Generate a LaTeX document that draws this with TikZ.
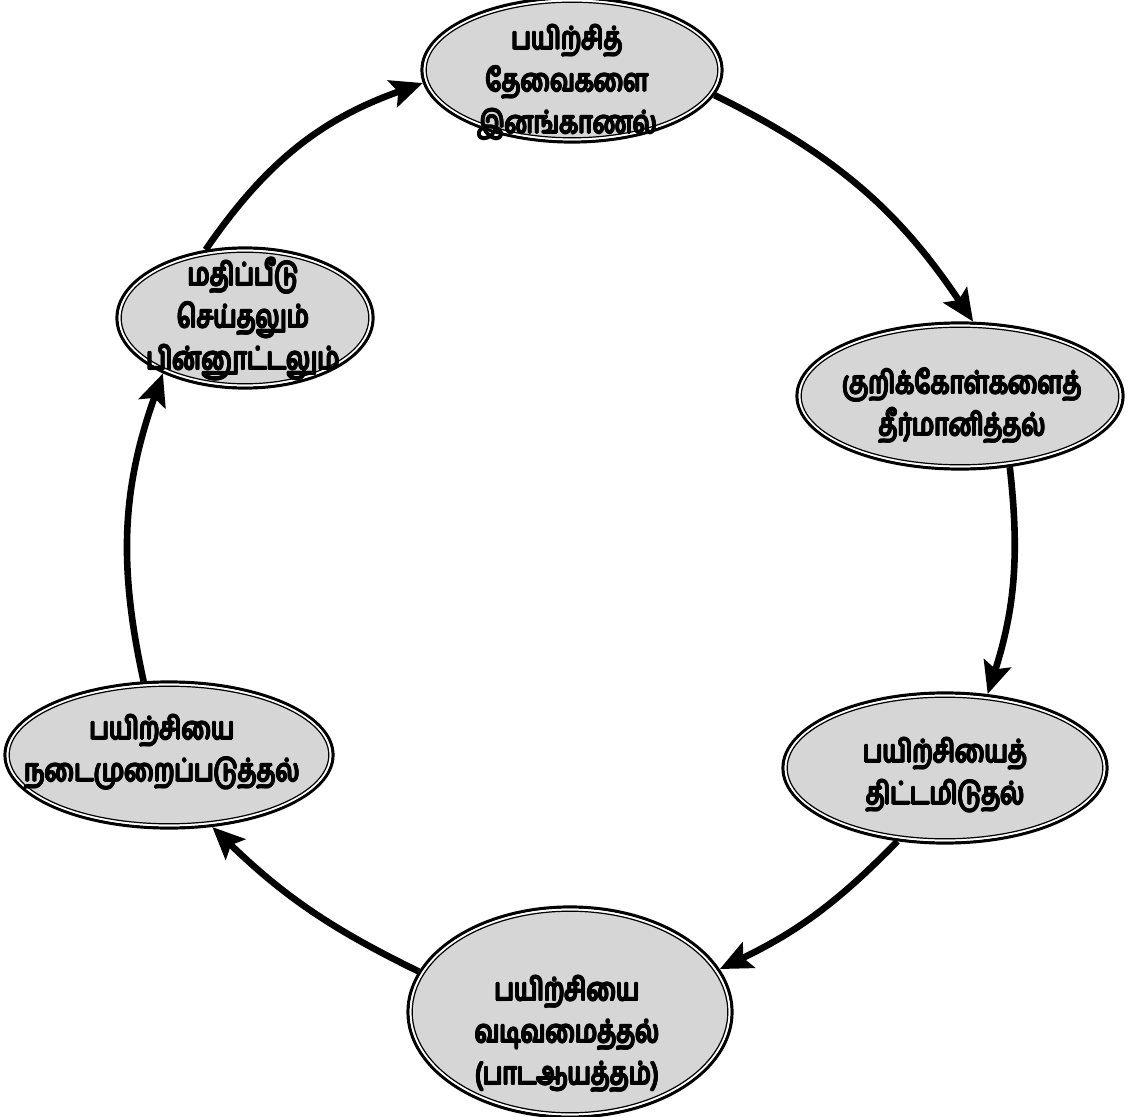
\documentclass[tikz,border=0pt]{standalone}
\usepackage{fontspec}
\newfontfamily\tam[Script=Tamil, FakeStretch=0.8]{Hind Madurai}
\usetikzlibrary{shapes.geometric,arrows.meta}
\newcommand\dblring[3]{%
  \draw[white, line width=1pt] (#1.center) ellipse [x radius=#2pt-1.3pt, y radius=#3pt-1.3pt];
  \draw[black, line width=0.6pt] (#1.center) ellipse [x radius=#2pt-2.1pt, y radius=#3pt-2.1pt];}
% heavy label: the text set several times with tiny offsets
\newcommand\heavylabel[3]{%
  \foreach \dx/\dy [count=\k] in {-0.5/0,0.5/0,0/-0.5,0/0.5,-0.35/-0.35,0.35/0.35,-0.35/0.35,0.35/-0.35}{%
    \node[lbl, xshift=\dx pt, yshift=\dy pt] (#1x\k) at (#2) {#3};}%
  \node[lbl] (#1) at (#2) {#3};}
\begin{document}
\begin{tikzpicture}[x=0.5pt,y=-0.5pt,
  stage/.style={ellipse, draw=black, line width=1.6pt, fill=black!16, inner sep=0pt},
  lbl/.style={font=\tam\fontsize{15.5}{21}\selectfont, align=center, inner sep=0pt},
  flow/.style={line width=3.3pt, -{Stealth[length=16pt,width=14pt,inset=3pt]}}]
\useasboundingbox (0,0) rectangle (1130,1117);
% stages
\node[stage, minimum width=150pt, minimum height=72pt] (n1) at (572,70) {};
\node[stage, minimum width=163pt, minimum height=73pt] (n2) at (960,396) {};
\node[stage, minimum width=162pt, minimum height=75pt] (n3) at (945,768) {};
\node[stage, minimum width=162pt, minimum height=105pt] (n4) at (570,1012) {};
\node[stage, minimum width=164pt, minimum height=73pt] (n5) at (169,755) {};
\node[stage, minimum width=128pt, minimum height=70pt] (n6) at (245,318) {};
\dblring{n1}{75}{36}
\dblring{n2}{81.5}{36.5}
\dblring{n3}{81}{37.5}
\dblring{n4}{81}{52.5}
\dblring{n5}{82}{36.5}
\dblring{n6}{64}{35}
% labels
\heavylabel{t1}{567,82}{பயிற்சித்\\தேவைகளை\\இனங்காணல்}
\heavylabel{t2}{962,406}{குறிக்கோள்களைத்\\தீர்மானித்தல்}
\heavylabel{t3}{945,775}{பயிற்சியைத்\\திட்டமிடுதல்}
\heavylabel{t4}{567,1034}{பயிற்சியை\\வடிவமைத்தல்\\(பாடஆயத்தம்)}
\heavylabel{t5}{162,752}{பயிற்சியை\\நடைமுறைப்படுத்தல்}
\heavylabel{t6}{243,319}{மதிப்பீடு\\செய்தலும்\\பின்னூட்டலும்}
% cycle
\draw[flow] (n6.120) to[bend left=18] (n1.185);
\draw[flow] (n1.350) to[bend left=15] (n2.80);
\draw[flow] (n2.305) to[bend left=12] (n3.60);
\draw[flow] (n3.237) to[bend left=10] (n4.16);
\draw[flow] (n4.165) to[bend left=9] (n5.301);
\draw[flow] (n5.109) to[bend left=16] (n6.214);
\end{tikzpicture}
\end{document}
